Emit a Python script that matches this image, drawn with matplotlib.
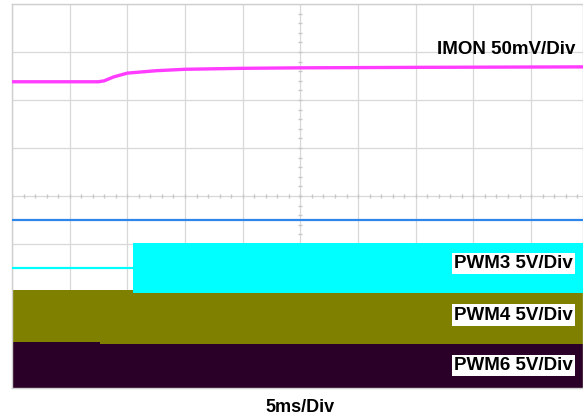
import numpy as np
import matplotlib.pyplot as plt

# scope capture, x in ms (5 ms/div), y in screen divisions (0 = bottom, 8 = top)
imon_t = [0, 7.5, 8.0, 8.8, 10.0, 12.5, 15.0, 20.0, 25.0, 35.0, 49.5]
imon_y = [6.38, 6.38, 6.40, 6.48, 6.56, 6.61, 6.64, 6.66, 6.67, 6.68, 6.69]

blue_t = [0, 49.5]
blue_y = [3.5, 3.5]

pwm3_t = [0, 10.5, 10.5, 49.5]
pwm3_lo = [2.5, 2.5, 1.98, 1.98]
pwm3_hi = [2.5, 2.5, 3.02, 3.02]

pwm4_t = [0, 7.6, 7.6, 49.5]
pwm4_lo = [0.96, 0.96, 0.91, 0.91]
pwm4_hi = [2.04, 2.04, 2.04, 2.04]

pwm6_t = [0, 7.6, 7.6, 49.5]
pwm6_hi = [0.96, 0.96, 0.91, 0.91]

labels = ["IMON 50mV/Div", "PWM3 5V/Div", "PWM4 5V/Div", "PWM6 5V/Div"]
label_y = [7.05, 2.6, 1.52, 0.46]

fig = plt.figure(figsize=(5.83, 4.2), dpi=100)
ax = fig.add_axes([12 / 583, 1 - 388 / 420, 571 / 583, 384 / 420])
ax.set_xlim(0, 49.5)
ax.set_ylim(0, 8)

# graticule
for gx in np.arange(0, 50, 5):
    ax.axvline(gx, color="#d8d8d8", lw=0.9, zorder=0)
for gy in range(0, 9):
    ax.axhline(gy, color="#d8d8d8", lw=0.9, zorder=0)
ax.plot(np.arange(0, 49.5, 1.0), [4] * 50, ls="none", marker="|", ms=3,
        color="#c8c8c8", zorder=0)
ax.plot([25] * 40, np.arange(0, 8, 0.2), ls="none", marker="_", ms=3,
        color="#c8c8c8", zorder=0)

# traces
ax.fill_between(pwm6_t, 0, pwm6_hi, color="#2b0028", lw=0, zorder=1)
ax.fill_between(pwm4_t, pwm4_lo, pwm4_hi, color="#808000", lw=0, zorder=2)
ax.fill_between(pwm3_t, pwm3_lo, pwm3_hi, color="#00ffff", lw=0, zorder=3)
ax.plot(pwm3_t[:2], pwm3_lo[:2], color="#00ffff", lw=1.6, zorder=3)
ax.plot(blue_t, blue_y, color="#2e86e8", lw=1.6, zorder=3)
ax.plot(imon_t, imon_y, color="#ff3cff", lw=2.4, zorder=4)

font = dict(family="Liberation Sans", weight="bold", color="black")
ax.text(48.8, label_y[0], labels[0], ha="right", va="center", fontsize=13.5, **font)
for lab, ly in zip(labels[1:], label_y[1:]):
    ax.text(48.6, ly, lab, ha="right", va="center", fontsize=13.5, zorder=5,
            bbox=dict(facecolor="white", edgecolor="none", pad=1.5), **font)

fig.text(300 / 583, 1 - 407 / 420, "5ms/Div", ha="center", va="center",
         fontsize=13, **font)

for s in ax.spines.values():
    s.set_color("#cfcfcf")
    s.set_linewidth(1)
ax.set_xticks([])
ax.set_yticks([])

fig.savefig("out.png", dpi=100)
